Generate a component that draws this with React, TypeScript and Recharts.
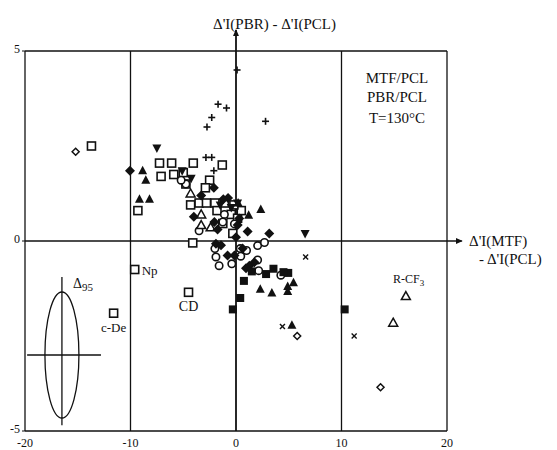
import { ScatterChart, Scatter, XAxis, YAxis, ReferenceLine, ReferenceDot } from "recharts"

// point series, [x, y]
const plusPts = [[0.1, 4.5], [-1.7, 3.6], [-0.9, 3.5], [-2.3, 3.25], [-2.75, 3.0], [2.8, 3.15], [-2.85, 2.2], [-2.3, 2.2], [-2.1, 1.85]]
const crossPts = [[6.6, -0.42], [11.2, -2.5], [4.4, -2.25]]
const openDiamondPts = [[-15.2, 2.35], [5.8, -2.5], [13.7, -3.85]]
const openSquarePts = [
    [-13.7, 2.5], [-9.6, -0.75], [-4.5, -1.35], [-11.6, -1.9], [-4.1, -0.05], [-7.25, 2.05], [-6.1, 2.05],
    [-4.05, 2.05], [-1.3, 2.0], [-7.1, 1.7], [-5.9, 1.75], [-5.0, 1.8], [-4.75, 1.5], [-2.5, 1.6], [-2.9, 1.4],
    [-4.3, 0.95], [-3.5, 1.0], [-2.8, 1.0], [-2.0, 1.0], [-1.1, 1.0], [-9.3, 0.8], [-1.8, 0.8], [-0.45, 0.7],
    [0.15, 0.6], [0.5, 0.8], [-0.3, 0.2], [-1.25, 0.46], [-0.2, 0.95],
]
const openTrianglePts = [[16.1, -1.45], [14.9, -2.15], [-4.3, 1.25], [-3.3, 0.42], [-2.4, 0.36], [-3.3, 0.7]]
const openCirclePts = [
    [-3.5, 0.27], [-2.0, -0.2], [-1.9, -0.42], [-1.6, -0.65], [0.4, -0.2], [1.0, -0.25], [2.05, -0.12],
    [2.7, -0.04], [2.05, -0.5], [2.15, -0.78], [4.25, -0.9], [0.45, -0.4], [-1.1, 0.7], [-1.25, 0.5],
    [-0.15, 0.45], [-4.75, 1.5], [-5.2, 1.6], [-0.4, -0.6],
]
const filledSquarePts = [[10.3, -1.8], [0.75, -1.05], [0.4, -1.5], [-0.3, -1.8], [2.85, -0.87], [3.55, -0.73], [4.95, -0.84], [1.5, -0.8], [4.5, -0.82]]
const filledTrianglePts = [
    [-8.85, 1.85], [-8.55, 1.6], [-9.15, 1.1], [-8.2, 1.1], [2.35, 0.83], [1.2, 0.68], [0.2, 1.0],
    [2.3, -1.27], [3.4, -1.37], [4.9, -1.33], [5.45, -1.1], [5.3, -2.22], [4.9, -1.2],
]
const filledInvTrianglePts = [[-7.5, 2.45], [6.55, 0.2], [-4.25, 1.65], [-0.45, 0.88], [0.15, 1.0], [-5.1, 1.85], [-1.5, 0.95]]
const filledDiamondPts = [
    [-10.05, 1.85], [3.15, 0.2], [-0.75, 1.13], [-4.0, 0.64], [-3.3, 1.2], [-1.75, 0.3], [-0.15, -0.38],
    [1.1, 0.25], [-1.9, -0.07], [-1.42, -0.11], [0.0, 0.1], [0.16, 0.42], [0.3, 0.59], [0.63, -0.2],
    [1.26, -0.65], [1.74, -0.56], [-2.05, 0.5], [-0.8, -0.38], [-2.1, 1.4], [-1.2, 1.1], [0.95, -0.72],
]

const xTicks = [-20, -10, 0, 10, 20]
const yTicks = [-5, 0, 5]

const toRows = (pts: number[][]) => pts.map(([x, y]) => ({ x, y }))

const FONT = "Liberation Serif, Times New Roman, serif"

function marker(kind: string) {
    return (props: any) => {
        const { cx, cy } = props
        if (cx == null || cy == null) return <g />
        const k = "#111"
        switch (kind) {
            case "plus":
                return (
                    <g stroke={k} strokeWidth={1.6}>
                        <line x1={cx - 3.5} y1={cy} x2={cx + 3.5} y2={cy} />
                        <line x1={cx} y1={cy - 3.5} x2={cx} y2={cy + 3.5} />
                    </g>
                )
            case "cross":
                return (
                    <g stroke={k} strokeWidth={1.4}>
                        <line x1={cx - 2.5} y1={cy - 2.5} x2={cx + 2.5} y2={cy + 2.5} />
                        <line x1={cx - 2.5} y1={cy + 2.5} x2={cx + 2.5} y2={cy - 2.5} />
                    </g>
                )
            case "openDiamond":
                return <polygon points={`${cx},${cy - 3.5} ${cx + 3.5},${cy} ${cx},${cy + 3.5} ${cx - 3.5},${cy}`} fill="#fff" stroke={k} strokeWidth={1.5} />
            case "openSquare":
                return <rect x={cx - 4} y={cy - 4} width={8} height={8} fill="#fff" stroke={k} strokeWidth={1.6} />
            case "filledSquare":
                return <rect x={cx - 4} y={cy - 4} width={8} height={8} fill={k} />
            case "openTriangle":
                return <polygon points={`${cx},${cy - 4.5} ${cx + 4.5},${cy + 3.5} ${cx - 4.5},${cy + 3.5}`} fill="#fff" stroke={k} strokeWidth={1.5} />
            case "filledTriangle":
                return <polygon points={`${cx},${cy - 5} ${cx + 4.5},${cy + 3.5} ${cx - 4.5},${cy + 3.5}`} fill={k} />
            case "filledInvTriangle":
                return <polygon points={`${cx},${cy + 5} ${cx + 4.5},${cy - 3.5} ${cx - 4.5},${cy - 3.5}`} fill={k} />
            case "openCircle":
                return <circle cx={cx} cy={cy} r={3.7} fill="#fff" stroke={k} strokeWidth={1.6} />
            case "filledDiamond":
                return <polygon points={`${cx},${cy - 5} ${cx + 5},${cy} ${cx},${cy + 5} ${cx - 5},${cy}`} fill={k} />
            default:
                return <circle cx={cx} cy={cy} r={3} fill={k} />
        }
    }
}

const textAt = (label: string, anchor: "start" | "middle" | "end", dx = 0, dy = 0, size = 13) => (props: any) => (
    <text x={props.cx + dx} y={props.cy + dy} textAnchor={anchor} fontFamily={FONT} fontSize={size} fill="#111">
        {label}
    </text>
)

// the Δ95 ellipse, drawn around its centre point
const ellipseShape = (props: any) => (
    <ellipse cx={props.cx} cy={props.cy} rx={17} ry={63} fill="none" stroke="#111" strokeWidth={1.3} />
)

const series: [string, number[][]][] = [
    ["openSquare", openSquarePts],
    ["openCircle", openCirclePts],
    ["openTriangle", openTrianglePts],
    ["openDiamond", openDiamondPts],
    ["filledDiamond", filledDiamondPts],
    ["filledSquare", filledSquarePts],
    ["filledTriangle", filledTrianglePts],
    ["filledInvTriangle", filledInvTrianglePts],
    ["plus", plusPts],
    ["cross", crossPts],
]

export default function App() {
    const line = { stroke: "#111", strokeWidth: 1.3 }
    return (
        <div style={{ position: "absolute", left: 0, top: 0, background: "#fff" }}>
            <ScatterChart width={557} height={450} margin={{ top: 51, right: 110, bottom: 0, left: 0 }}>
                <defs>
                    <marker id="arrowHead" markerWidth={8} markerHeight={8} refX={6} refY={4} orient="auto" markerUnits="userSpaceOnUse">
                        <path d="M0,1 L7,4 L0,7 Z" fill="#111" />
                    </marker>
                </defs>
                <XAxis
                    type="number"
                    dataKey="x"
                    domain={[-20, 20]}
                    ticks={xTicks}
                    height={19}
                    axisLine={line}
                    tickLine={false}
                    tickSize={5}
                    tick={{ fontFamily: FONT, fontSize: 12, fill: "#111" }}
                />
                <YAxis
                    type="number"
                    dataKey="y"
                    domain={[-5, 5]}
                    ticks={yTicks}
                    width={25}
                    axisLine={line}
                    tickSize={3}
                    tickLine={{ stroke: "#111" }}
                    tick={{ fontFamily: FONT, fontSize: 12, fill: "#111", dy: -2 }}
                />
                <ReferenceLine y={5} {...line} />
                <ReferenceLine x={20} {...line} />
                <ReferenceLine x={-10} {...line} />
                <ReferenceLine x={10} {...line} />
                <ReferenceLine segment={[{ x: 0, y: -5 }, { x: 0, y: 5.55 }]} ifOverflow="visible" stroke="#111" strokeWidth={1.8} markerEnd="url(#arrowHead)" />
                <ReferenceLine segment={[{ x: -20, y: 0 }, { x: 21.4, y: 0 }]} ifOverflow="visible" stroke="#111" strokeWidth={1.5} markerEnd="url(#arrowHead)" />
                <ReferenceLine segment={[{ x: -19.8, y: -3.0 }, { x: -12.8, y: -3.0 }]} {...line} />
                <ReferenceLine segment={[{ x: -16.5, y: -0.95 }, { x: -16.5, y: -4.85 }]} {...line} />
                <ReferenceDot x={-16.5} y={-3.0} r={0} shape={ellipseShape} />
                {series.map(([kind, pts]) => (
                    <Scatter key={kind} data={toRows(pts)} shape={marker(kind)} isAnimationActive={false} />
                ))}
                <ReferenceDot x={-9.6} y={-0.75} r={0} shape={textAt("Np", "start", 7, 5)} />
                <ReferenceDot x={-4.5} y={-1.35} r={0} shape={textAt("CD", "middle", 0, 19, 14)} />
                <ReferenceDot x={-11.6} y={-1.9} r={0} shape={textAt("c-De", "middle", 0, 19)} />
            </ScatterChart>
            <svg width={557} height={450} style={{ position: "absolute", left: 0, top: 0, pointerEvents: "none" }}>
                <g fontFamily={FONT} fill="#111">
                    <text x={213} y={29} fontSize={15}>Δ'I(PBR) - Δ'I(PCL)</text>
                    <text x={397} y={83} fontSize={15} textAnchor="middle">MTF/PCL</text>
                    <text x={397} y={102} fontSize={15} textAnchor="middle">PBR/PCL</text>
                    <text x={397} y={123} fontSize={15} textAnchor="middle">T=130°C</text>
                    <text x={469} y={246} fontSize={15}>Δ'I(MTF)</text>
                    <text x={479} y={264} fontSize={15}>- Δ'I(PCL)</text>
                    <text x={393} y={283} fontSize={12}>
                        R-CF<tspan fontSize={9} dy={3}>3</tspan>
                    </text>
                    <text x={73} y={288} fontSize={14}>
                        Δ<tspan fontSize={11} dy={3}>95</tspan>
                    </text>
                </g>
            </svg>
        </div>
    )
}
